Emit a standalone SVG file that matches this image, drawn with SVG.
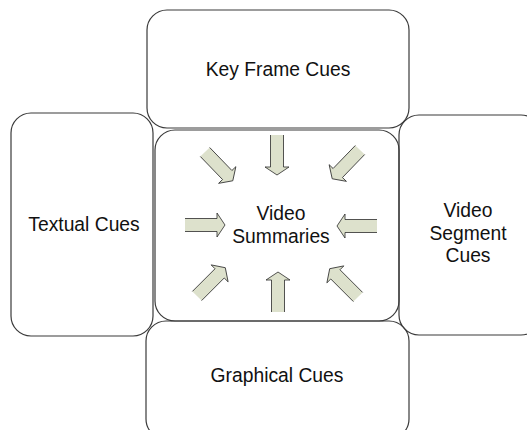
<svg xmlns="http://www.w3.org/2000/svg" xmlns:xlink="http://www.w3.org/1999/xlink" width="527" height="430" viewBox="0 0 527 430">
<style>
.box{fill:none;stroke:#3a3a3a;stroke-width:1.2}
.lbl{font-family:"Liberation Sans",Arial,sans-serif;font-size:19.3px;fill:#111;text-anchor:middle}
.af{fill:#dde1cc;stroke:none}
.as{fill:none;stroke:#2a2a2a;stroke-width:0.8;stroke-linejoin:miter}
</style>
<defs>
<g id="arr">
<path class="af" d="M0,-6.5 L32,-6.5 L32,-12 L40,0 L32,12 L32,6.5 L0,6.5 Z"/>
<path class="as" d="M0,-6.5 L32,-6.5 L32,-12 L40,0 L32,12 L32,6.5 L0,6.5"/>
</g>
</defs>
<rect width="527" height="430" fill="#fff"/>
<g id="keyframe">
<rect class="box" x="147" y="10" width="262" height="118" rx="20"/>
<text class="lbl" x="278" y="76">Key Frame Cues</text>
</g>
<g id="textual">
<rect class="box" x="11" y="113" width="142" height="223" rx="20"/>
<text class="lbl" x="84" y="231">Textual Cues</text>
</g>
<g id="segment">
<rect class="box" x="399" y="115" width="142" height="220" rx="20"/>
<text class="lbl" x="468" y="217">Video</text>
<text class="lbl" x="468" y="240">Segment</text>
<text class="lbl" x="468" y="262">Cues</text>
</g>
<g id="graphical">
<rect class="box" x="146" y="321" width="263" height="118" rx="20"/>
<text class="lbl" x="277" y="382">Graphical Cues</text>
</g>
<g id="summaries">
<rect class="box" x="155" y="130" width="244" height="191" rx="20"/>
<text class="lbl" x="281" y="220">Video</text>
<text class="lbl" x="281" y="243">Summaries</text>
</g>
<g id="connectors">
<use xlink:href="#arr" transform="translate(277,135) rotate(90)"/>
<use xlink:href="#arr" transform="translate(278,312) rotate(-90)"/>
<use xlink:href="#arr" transform="translate(185,225)"/>
<use xlink:href="#arr" transform="translate(377,226) rotate(180)"/>
<use xlink:href="#arr" transform="translate(205,152) rotate(46)"/>
<use xlink:href="#arr" transform="translate(360,150) rotate(134)"/>
<use xlink:href="#arr" transform="translate(197,296) rotate(-45)"/>
<use xlink:href="#arr" transform="translate(358,297) rotate(-135)"/>
</g>
</svg>
